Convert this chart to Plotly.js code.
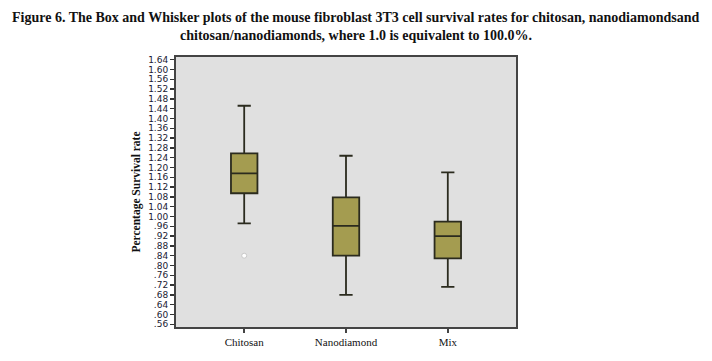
<!DOCTYPE html>
<html>
<head>
<meta charset="utf-8">
<script src="https://cdn.plot.ly/plotly-3.0.1.min.js"></script>
<style>html,body{margin:0;padding:0;background:#fff;}#chart{width:712px;height:361px;}</style>
</head>
<body>
<div id="chart"></div>
<script>
var categories = ["Chitosan", "Nanodiamond", "Mix"];
var lowerWhisker = [0.972, 0.680, 0.713];
var q1Values = [1.095, 0.840, 0.829];
var medianValues = [1.176, 0.962, 0.920];
var q3Values = [1.258, 1.078, 0.979];
var upperWhisker = [1.452, 1.248, 1.180];
var outlierCategories = ["Chitosan"];
var outlierValues = [0.840];
var tickValues = [0.56,0.60,0.64,0.68,0.72,0.76,0.80,0.84,0.88,0.92,0.96,1.00,1.04,1.08,1.12,1.16,1.20,1.24,1.28,1.32,1.36,1.40,1.44,1.48,1.52,1.56,1.60,1.64];
var tickLabels = [".56",".60",".64",".68",".72",".76",".80",".84",".88",".92",".96","1.00","1.04","1.08","1.12","1.16","1.20","1.24","1.28","1.32","1.36","1.40","1.44","1.48","1.52","1.56","1.60","1.64"];
var titleLines = [
  "Figure 6. The Box and Whisker plots of the mouse fibroblast 3T3 cell survival rates for chitosan, nanodiamondsand",
  "chitosan/nanodiamonds, where 1.0 is equivalent to 100.0%."
];

var traces = [
  {
    type: "box",
    x: categories,
    q1: q1Values,
    median: medianValues,
    q3: q3Values,
    lowerfence: lowerWhisker,
    upperfence: upperWhisker,
    fillcolor: "#a49c50",
    line: {color: "#2b2b1e", width: 1.8},
    whiskerwidth: 0.5,
    width: 0.26,
    boxpoints: false,
    hoverinfo: "none",
    showlegend: false
  },
  {
    type: "scatter",
    mode: "markers",
    x: outlierCategories,
    y: outlierValues,
    marker: {color: "#ffffff", size: 5, line: {color: "#c8c8c8", width: 1}},
    hoverinfo: "none",
    showlegend: false
  }
];

var titleFont = {family: "Liberation Serif, Times New Roman, serif", size: 14, color: "#111"};

var layout = {
  width: 712,
  height: 361,
  margin: {l: 176, r: 196, t: 57, b: 34, pad: 0},
  paper_bgcolor: "#ffffff",
  plot_bgcolor: "#e0e0e0",
  annotations: [
    {text: "<b>" + titleLines[0] + "</b>", xref: "paper", yref: "paper", x: 0.529, y: 1.148,
     xanchor: "center", yanchor: "middle", showarrow: false, font: titleFont},
    {text: "<b>" + titleLines[1] + "</b>", xref: "paper", yref: "paper", x: 0.529, y: 1.078,
     xanchor: "center", yanchor: "middle", showarrow: false, font: titleFont}
  ],
  xaxis: {
    type: "category",
    range: [-0.67, 2.67],
    showgrid: false,
    zeroline: false,
    showline: true,
    linecolor: "#444",
    linewidth: 2,
    mirror: true,
    ticks: "outside",
    ticklen: 4,
    tickwidth: 1.5,
    tickcolor: "#444",
    tickfont: {family: "Liberation Serif, Times New Roman, serif", size: 11, color: "#111"}
  },
  yaxis: {
    range: [0.549, 1.651],
    tickmode: "array",
    tickvals: tickValues,
    ticktext: tickLabels,
    showgrid: false,
    zeroline: false,
    showline: true,
    linecolor: "#444",
    linewidth: 2,
    mirror: true,
    ticks: "outside",
    ticklen: 4,
    tickwidth: 1.5,
    tickcolor: "#333",
    tickfont: {family: "DejaVu Sans, Verdana, sans-serif", size: 9, color: "#1a1a33"},
    title: {
      text: "<b>Percentage Survival rate</b>",
      font: {family: "Liberation Serif, Times New Roman, serif", size: 11.5, color: "#111"},
      standoff: 5
    }
  }
};

Plotly.newPlot("chart", traces, layout, {staticPlot: true, displayModeBar: false});
</script>
</body>
</html>
